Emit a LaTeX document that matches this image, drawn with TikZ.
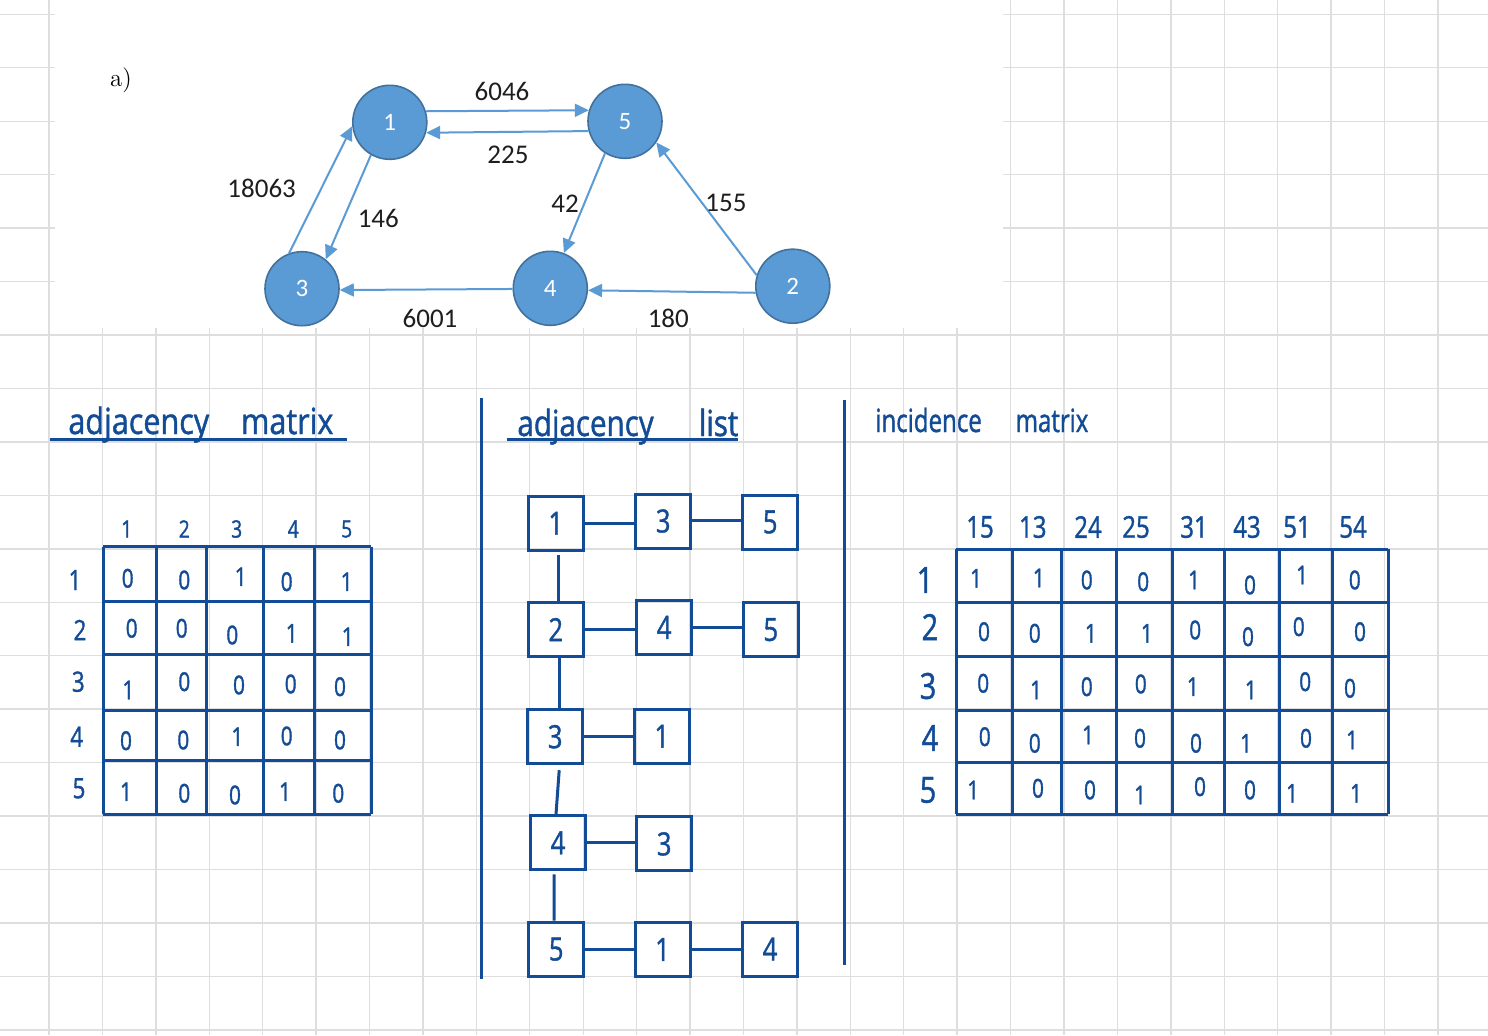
\documentclass[tikz,border=0pt]{standalone}
\usepackage{fontspec}
\usepackage{graphicx}
\usetikzlibrary{arrows.meta}
\newfontfamily\calib{Carlito}
\newfontfamily\hand[FakeStretch=0.8,FakeBold=1.2]{Open Sans}
\definecolor{gridc}{HTML}{DEDEDE}
\definecolor{ink}{HTML}{134C96}
\definecolor{nodefill}{HTML}{5B9BD5}
\definecolor{nodeedge}{HTML}{41719C}
\definecolor{edgecol}{HTML}{5B9BD5}
\definecolor{labc}{HTML}{1E1E1E}
\tikzset{
  gridline/.style={draw=gridc, line width=0.7pt},
  gnode/.style={circle, fill=nodefill, draw=nodeedge, line width=0.8pt, minimum size=37pt, inner sep=0pt, text=white, font=\calib\fontsize{12.5pt}{12.5pt}\selectfont},
  gedge/.style={draw=edgecol, line width=1pt, -{Triangle[length=7pt,width=6.5pt]}},
  glabel/.style={inner sep=0pt, text=labc, font=\calib\fontsize{13.5pt}{13.5pt}\selectfont},
  inkline/.style={draw=ink, line width=1.5pt},
  title/.style={inner sep=0pt, text=ink, anchor=base west},
  hdr/.style={inner sep=0pt, text=ink, font=\hand\fontsize{12pt}{12pt}\selectfont},
  rowl/.style={inner sep=0pt, text=ink, font=\hand\fontsize{14pt}{14pt}\selectfont},
  cellv/.style={inner sep=0pt, text=ink, font=\hand\fontsize{13pt}{13pt}\selectfont},
  ihdr/.style={inner sep=0pt, text=ink, font=\hand\fontsize{15pt}{15pt}\selectfont},
  irowl/.style={inner sep=0pt, text=ink, font=\hand\fontsize{18pt}{18pt}\selectfont},
  lbox/.style={draw=ink, line width=1.5pt, minimum width=27.5pt, minimum height=27pt, inner sep=0pt, text=ink, font=\hand\fontsize{16pt}{16pt}\selectfont},
}
\begin{document}
\begin{tikzpicture}[x=0.5pt,y=-0.5pt]
\useasboundingbox (0,0) rectangle (1488,1035);
\fill[white] (0,0) rectangle (1488,1035);
% grid paper
\foreach \i in {0,...,26} \draw[gridline] ({49+53.42*\i},0) -- ({49+53.42*\i},1035);
\foreach \j in {0,...,19} \draw[gridline] (0,{14.3+53.45*\j}) -- (1488,{14.3+53.45*\j});
\fill[white] (55,-2) rectangle (1003,328);

% ---------- graph ----------
\node[inner sep=0pt, font=\fontsize{12.5pt}{12.5pt}\selectfont] (lblA) at (121,80) {a)};
\node[gnode] (n1) at (389.8,122.3) {1};
\node[gnode] (n5) at (625,121.3) {5};
\node[gnode] (n3) at (302,288.7) {3};
\node[gnode] (n4) at (550.3,288.3) {4};
\node[gnode] (n2) at (792.8,286.2) {2};

\draw[gedge] (n1.17) -- (n5.163);
\draw[gedge] (n5.195) -- (n1.344);
\draw[gedge] (n3.110) -- (n1.186);
\draw[gedge] (n1.240) -- (n3.51);
\draw[gedge] (n5.238) -- (n4.69);
\draw[gedge] (n2.163) -- (n5.326);
\draw[gedge] (n2.190) -- (n4.357);
\draw[gedge] (n4.181) -- (n3.358);

\node[glabel] (w6046) at (502,91.5) {6046};
\node[glabel] (w225) at (508,154.5) {225};
\node[glabel] (w18063) at (261.7,188.3) {18063};
\node[glabel] (w146) at (378.3,218.3) {146};
\node[glabel] (w42) at (565,203.3) {42};
\node[glabel] (w155) at (726,203.3) {155};
\node[glabel] (w6001) at (430,318.3) {6001};
\node[glabel] (w180) at (668.3,318.3) {180};

% ---------- adjacency matrix ----------
\node[title, font=\hand\fontsize{18pt}{18pt}\selectfont] (tam) at (68,434) {\resizebox{132.5pt}{\height}{adjacency\hspace{15pt}matrix}};
\draw[inkline] (50,439) -- (347,439);
\foreach \x in {103.3,156.7,206,263.3,314.3,371} \draw[inkline] (\x,546.7) -- (\x,814.3);
\foreach \y in {546.7,601,654.3,710,760,814.3} \draw[inkline] (103.3,\y) -- (371,\y);
\foreach \x/\v [count=\k] in {126.7/1,184.3/2,236.7/3,293.3/4,346.7/5}
  \node[hdr] (ah\k) at (\x,529) {\v};
\foreach \y/\x/\v [count=\k] in {580/75/1,630/80/2,681.7/78.3/3,736.7/76.7/4,788.3/79/5}
  \node[rowl] (ar\k) at (\x,\y) {\v};
\foreach \x/\y/\v [count=\k] in {
  127.7/578.3/0, 184.3/580/0, 240.7/576.7/1, 286.7/581.7/0, 346.7/581.7/1,
  131.7/628.3/0, 181.7/628.3/0, 232.3/635/0, 291.7/633.3/1, 347.7/636.7/1,
  128.3/690/1, 184.3/681.7/0, 239/685/0, 290.7/684/0, 340/686.7/0,
  126/740.7/0, 183.3/740/0, 237.3/736.7/1, 286.7/736/0, 340/740/0,
  126/791.7/1, 184.3/793.3/0, 235/795/0, 285/791.7/1, 338.3/793.3/0}
  \node[cellv] (av\k) at (\x,\y) {\v};

% ---------- adjacency list ----------
\draw[inkline] (481,398) -- (481,979);
\draw[inkline] (844,400) -- (844,965);
\node[title, font=\hand\fontsize{18pt}{18pt}\selectfont] (tal) at (517,436) {\resizebox{110.5pt}{\height}{adjacency\hspace{22pt}list}};
\draw[inkline] (507,439) -- (738,439);

\node[lbox] (a1) at (555.8,523.3) {1};
\node[lbox] (b1) at (663.2,521) {3};
\node[lbox] (c1) at (770.2,522) {5};
\node[lbox] (a2) at (555.8,629.6) {2};
\node[lbox] (b2) at (664.2,627.4) {4};
\node[lbox] (c2) at (770.8,629.6) {5};
\node[lbox] (a3) at (555.2,736.7) {3};
\node[lbox] (b3) at (661.8,736.2) {1};
\node[lbox] (a4) at (558,842.8) {4};
\node[lbox] (b4) at (664.2,843.9) {3};
\node[lbox] (a5) at (556.2,949.2) {5};
\node[lbox] (b5) at (662.5,949.5) {1};
\node[lbox] (c5) at (770,949) {4};

\draw[inkline] (a1.east) -- (a1.east -| b1.west);
\draw[inkline] ([yshift=0.5pt]b1.east) -- ([yshift=0.5pt]b1.east -| c1.west);
\draw[inkline] (a2.east) -- (a2.east -| b2.west);
\draw[inkline] (b2.east) -- (b2.east -| c2.west);
\draw[inkline] (a3.east) -- (a3.east -| b3.west);
\draw[inkline] (a4.east) -- (a4.east -| b4.west);
\draw[inkline] (a5.east) -- (a5.east -| b5.west);
\draw[inkline] (b5.east) -- (b5.east -| c5.west);

\draw[inkline] ([xshift=1.5pt,yshift=-1.5pt]a1.south) -- ([xshift=1.5pt]a1.south |- a2.north);
\draw[inkline] ([xshift=2pt]a2.south) -- ([xshift=2pt]a2.south |- a3.north);
\draw[inkline] ([xshift=2pt,yshift=-2.5pt]a3.south) -- ([xshift=-1pt]a4.north);
\draw[inkline] ([xshift=-2pt,yshift=-1.5pt]a4.south) -- ([xshift=-1pt]a5.north);

% ---------- incidence matrix ----------
\node[title, font=\hand\fontsize{16pt}{16pt}\selectfont] (tim) at (875,432) {\resizebox{106.5pt}{\height}{incidence\hspace{18pt}matrix}};
\foreach \x in {956,1012.8,1061.2,1116.4,1172.4,1224.8,1279.2,1332,1388} \draw[inkline] (\x,549) -- (\x,814);
\foreach \y in {549,602.3,656,710,762.7,814} \draw[inkline] (956,\y) -- (1388,\y);
\foreach \x/\v [count=\k] in {980/15,1032.8/13,1088/24,1136/25,1194/31,1247/43,1297/51,1353/54}
  \node[ihdr] (ih\k) at (\x,527) {\v};
\foreach \x/\y/\v [count=\k] in {925/580/1,930/627/2,928/686/3,930/738/4,928/790/5}
  \node[irowl] (ir\k) at (\x,\y) {\v};
\foreach \x/\y/\v [count=\k] in {
  976/578.3/1, 1038.8/578/1, 1086.8/580/0, 1143.2/581.7/0, 1194/580/1, 1250/585/0, 1302/575/1, 1354.8/580/0,
  984/631.7/0, 1034.8/633.3/0, 1090.8/633.3/1, 1146.8/633.3/1, 1195.2/630/0, 1248/636.7/0, 1298.8/626.7/0, 1360/631.7/0,
  983.2/683.3/0, 1036/690/1, 1086.8/686.7/0, 1140.8/684/0, 1192.8/686.7/1, 1250.8/690/1, 1305.2/681.7/0, 1350/688.3/0,
  984.8/736.7/0, 1034.8/743.3/0, 1088/735/1, 1140/738.3/0, 1196/743.3/0, 1246/743.3/1, 1306/738.3/0, 1352/740/1,
  973.2/790/1, 1038/788.3/0, 1090/790/0, 1140/795/1, 1200/786.7/0, 1250/790/0, 1292/793.3/1, 1356/793.3/1}
  \node[cellv] (iv\k) at (\x,\y) {\v};
\end{tikzpicture}
\end{document}
